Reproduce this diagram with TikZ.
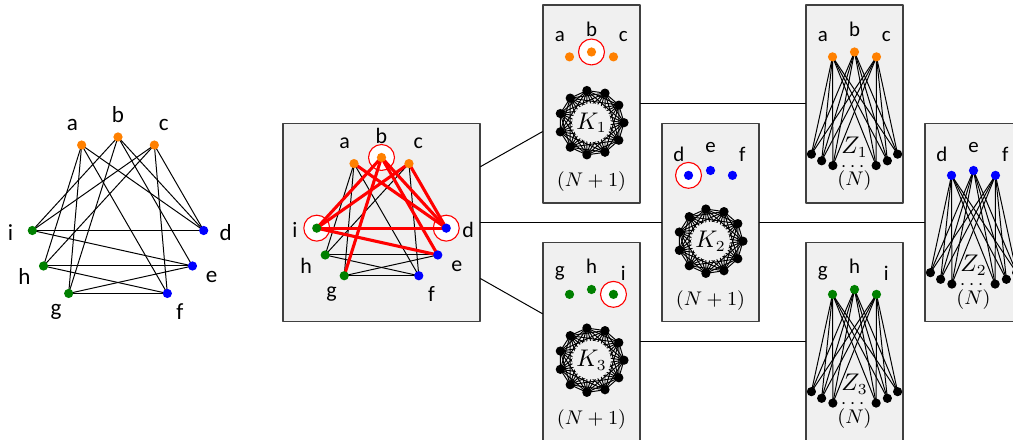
\documentclass[tikz,border=0pt]{standalone}
\usepackage{amsmath}
\usepackage{fontspec}
\usepackage{tikz}
\usetikzlibrary{calc}
\newfontfamily\vfont{Carlito}
\definecolor{VOrange}{HTML}{FF8000}
\definecolor{VBlue}{HTML}{0000FF}
\definecolor{VGreen}{HTML}{008000}
\definecolor{PanelGray}{HTML}{F0F0F0}

\begin{document}
\begin{tikzpicture}[line cap=round,line join=round,x=0.16cm,y=0.16cm,
    vtx/.style={circle,fill=black,inner sep=0pt,minimum size=4.2pt},
    pick/.style={circle,draw=red,fill=white,line width=0.5pt,inner sep=0pt,minimum size=11.8pt},
    edge/.style={line width=0.45pt,color=black},
    hot/.style={line width=1.4pt,color=red},
    panel/.style={draw=black!75,fill=PanelGray,line width=0.5pt,inner sep=0pt,minimum width=15.52mm,minimum height=31.68mm},
    link/.style={line width=0.45pt,color=black},
    biglbl/.style={font=\vfont\fontsize{10.5}{12}\selectfont},
    midlbl/.style={font=\vfont\fontsize{10}{12}\selectfont},
    boxlbl/.style={font=\vfont\fontsize{9.5}{11}\selectfont},
    mathlbl/.style={inner sep=0pt,font=\fontsize{9}{11}\selectfont},
    cover/.style={circle,fill=PanelGray,inner sep=0pt,minimum size=6.2mm,font=\fontsize{10.5}{12}\selectfont}]
    \useasboundingbox (0,0) rectangle (101.3,44);

    % left: the whole graph
    \coordinate (L) at (11.8,21.7);
    \foreach \p/\ang in {a/115,b/90,c/65,d/-5,e/-30,f/-55,g/235,h/210,i/185} {
        \coordinate (L\p) at ($(L)+(\ang:8.6)$);
        \node[biglbl] (L\p t) at ($(L)+(\ang:10.8)$) {\p};
    }
    \foreach \p/\q in {a/d,a/f,a/g,a/h,b/d,b/e,b/g,b/i,c/d,c/f,c/h,c/i,d/i,e/i,e/h,e/g,f/h,f/g}
        \draw[edge] (L\p) -- (L\q);
    \foreach \p/\col in {a/VOrange,b/VOrange,c/VOrange,d/VBlue,e/VBlue,f/VBlue,g/VGreen,h/VGreen,i/VGreen}
        \node[vtx,fill=\col] (L\p n) at (L\p) {};

    % middle: the graph with the chosen vertices
    \node[panel,minimum width=31.52mm] (M) at (38.15,21.75) {};
    \foreach \p/\ang in {a/115,b/90,c/65,d/-5,e/-30,f/-55,g/235,h/210,i/185} {
        \coordinate (M\p) at ($(M)+(\ang:6.5)$);
        \node[midlbl] (M\p t) at ($(M)+(\ang:8.7)$) {\p};
    }
    \foreach \p in {b,d,i}
        \node[pick] (M\p c) at (M\p) {};
    \foreach \p/\q in {a/f,a/g,a/h,c/f,c/h,e/h,e/g,f/h,f/g}
        \draw[edge] (M\p) -- (M\q);
    \foreach \p/\q in {a/d,b/d,b/e,b/g,b/i,c/d,c/i,d/i,e/i}
        \draw[hot] (M\p) -- (M\q);
    \foreach \p/\col in {a/VOrange,b/VOrange,c/VOrange,d/VBlue,e/VBlue,f/VBlue,g/VGreen,h/VGreen,i/VGreen}
        \node[vtx,fill=\col] (M\p n) at (M\p) {};

    % clique boxes
    \foreach \nk/\cx/\cy/\col/\pk/\la/\lb/\lc in {1/59.15/33.6/VOrange/2/a/b/c,2/71.05/21.75/VBlue/1/d/e/f,3/59.15/9.85/VGreen/3/g/h/i} {
        \node[panel] (K\nk) at (\cx,\cy) {};
        \foreach \j/\ang/\txt in {1/115/\la,2/90/\lb,3/65/\lc} {
            \coordinate (K\nk v\j) at ($(K\nk)+(\ang:5.2)$);
            \node[boxlbl] (K\nk t\j) at ($(K\nk)+(\ang:7.5)$) {\txt};
        }
        \node[pick] (K\nk p) at (K\nk v\pk) {};
        \foreach \j in {1,2,3}
            \node[vtx,fill=\col] (K\nk n\j) at (K\nk v\j) {};
        \coordinate (K\nk c) at ($(K\nk)+(0,-1.87)$);
        \foreach \j in {0,...,10}
            \coordinate (K\nk r\j) at ($(K\nk c)+(\j*32.727:3.25)$);
        \foreach \j in {0,...,9} {
            \pgfmathtruncatemacro\jn{\j+1}
            \foreach \m in {\jn,...,10}
                \draw[edge] (K\nk r\j) -- (K\nk r\m);
        }
        \node[cover] (K\nk lab) at (K\nk c) {$K_\nk$};
        \foreach \j in {0,...,10}
            \node[vtx] (K\nk d\j) at (K\nk r\j) {};
        \node[mathlbl] (K\nk size) at ($(K\nk)+(0,-7.8)$) {$(N+1)$};
    }

    % bipartite boxes
    \foreach \nz/\cx/\cy/\col/\la/\lb/\lc in {1/85.45/33.6/VOrange/a/b/c,2/97.35/21.75/VBlue/d/e/f,3/85.45/9.85/VGreen/g/h/i} {
        \node[panel] (Z\nz) at (\cx,\cy) {};
        \foreach \j/\ang/\txt in {1/115/\la,2/90/\lb,3/65/\lc} {
            \coordinate (Z\nz v\j) at ($(Z\nz)+(\ang:5.2)$);
            \node[boxlbl] (Z\nz t\j) at ($(Z\nz)+(\ang:7.5)$) {\txt};
        }
        \foreach \j/\ang in {1/232,2/242,3/252,4/288,5/298,6/308}
            \coordinate (Z\nz w\j) at ($(Z\nz)+(0,0.5)+(\ang:7)$);
        \foreach \j in {1,2,3}
            \foreach \m in {1,...,6}
                \draw[edge] (Z\nz v\j) -- (Z\nz w\m);
        \foreach \j in {1,2,3}
            \node[vtx,fill=\col] (Z\nz n\j) at (Z\nz v\j) {};
        \foreach \m in {1,...,6}
            \node[vtx] (Z\nz d\m) at (Z\nz w\m) {};
        \node[inner sep=0pt,font=\fontsize{10.5}{12}\selectfont] (Z\nz lab) at ($(Z\nz)+(0,-4.3)$) {$Z_\nz$};
        \node[mathlbl] (Z\nz dots) at ($(Z\nz)+(0,-6.3)$) {$\cdots$};
        \node[mathlbl] (Z\nz size) at ($(Z\nz)+(0,-7.7)$) {$(N)$};
    }

    % links between the boxes
    \draw[link] (M) -- (K1);
    \draw[link] (M) -- (K2);
    \draw[link] (M) -- (K3);
    \draw[link] (K1) -- (Z1);
    \draw[link] (K2) -- (Z2);
    \draw[link] (K3) -- (Z3);
\end{tikzpicture}
\end{document}
